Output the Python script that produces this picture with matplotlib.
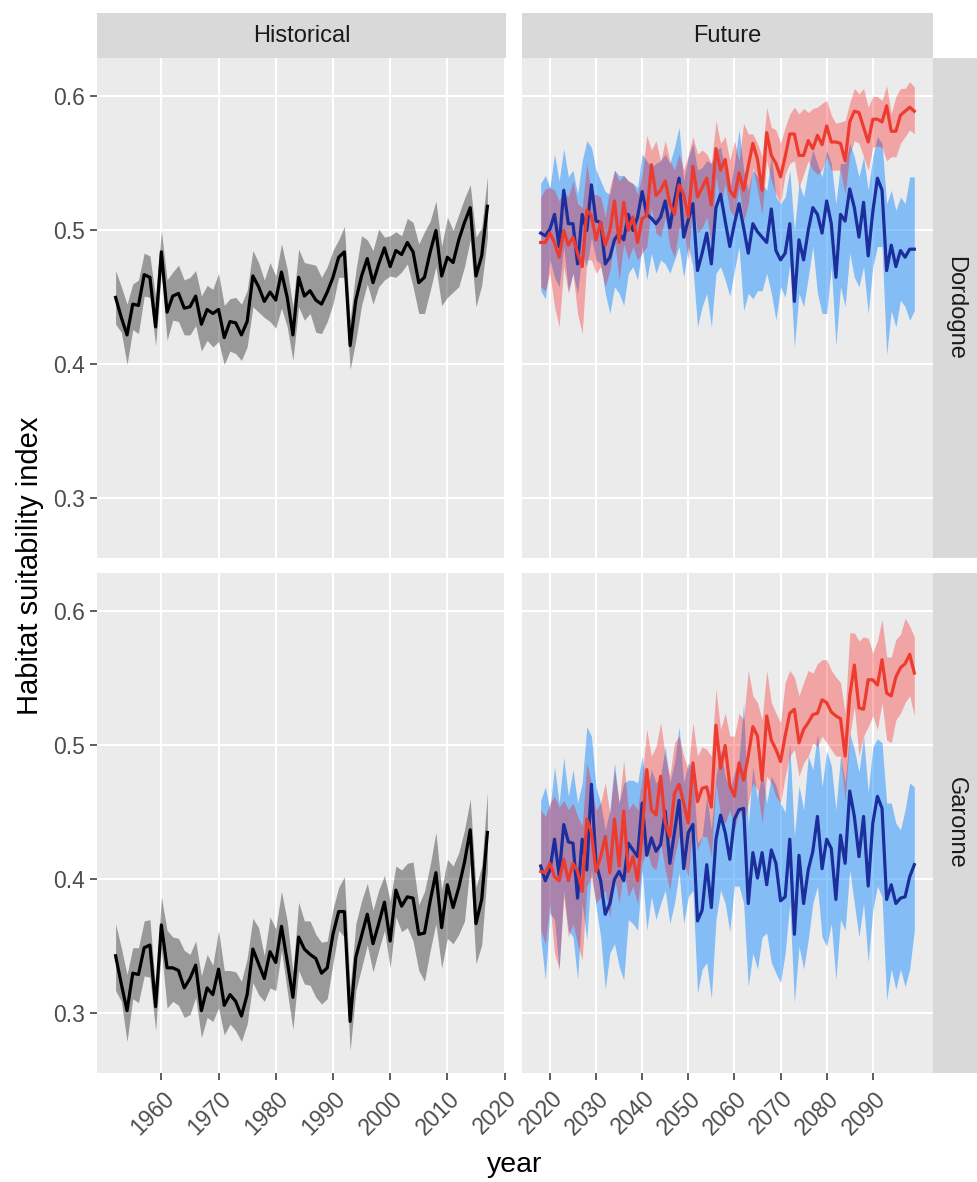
import matplotlib
matplotlib.use("Agg")
import matplotlib.pyplot as plt
from matplotlib.transforms import ScaledTranslation

plt.rcParams["font.family"] = ["Liberation Sans", "DejaVu Sans"]

#%% data
hist_years = list(range(1952, 2018))
fut_years = list(range(2018, 2100))

dord_hist_mean = [0.450, 0.435, 0.422, 0.445, 0.444, 0.467, 0.465, 0.428, 0.484, 0.439,
                  0.451, 0.453, 0.442, 0.443, 0.451, 0.430, 0.441, 0.438, 0.441, 0.420,
                  0.432, 0.431, 0.422, 0.432, 0.466, 0.458, 0.447, 0.454, 0.448, 0.469,
                  0.450, 0.422, 0.465, 0.451, 0.455, 0.448, 0.445, 0.454, 0.465, 0.480,
                  0.484, 0.414, 0.448, 0.466, 0.479, 0.461, 0.475, 0.487, 0.473, 0.485,
                  0.482, 0.491, 0.484, 0.461, 0.465, 0.484, 0.500, 0.466, 0.480, 0.476,
                  0.493, 0.506, 0.517, 0.466, 0.481, 0.518]
dord_hist_hi = [0.470, 0.458, 0.445, 0.460, 0.463, 0.483, 0.481, 0.450, 0.500, 0.463,
                0.469, 0.474, 0.463, 0.465, 0.470, 0.451, 0.459, 0.456, 0.468, 0.444,
                0.449, 0.450, 0.445, 0.455, 0.485, 0.476, 0.463, 0.476, 0.466, 0.490,
                0.471, 0.443, 0.486, 0.476, 0.475, 0.474, 0.465, 0.473, 0.485, 0.493,
                0.503, 0.433, 0.470, 0.496, 0.493, 0.485, 0.501, 0.495, 0.496, 0.499,
                0.496, 0.509, 0.506, 0.490, 0.499, 0.507, 0.522, 0.488, 0.510, 0.500,
                0.512, 0.524, 0.534, 0.495, 0.502, 0.540]
dord_hist_lo = [0.430, 0.424, 0.400, 0.426, 0.423, 0.451, 0.450, 0.414, 0.468, 0.418,
                0.433, 0.432, 0.422, 0.422, 0.429, 0.410, 0.418, 0.413, 0.417, 0.400,
                0.410, 0.408, 0.403, 0.413, 0.443, 0.439, 0.435, 0.432, 0.427, 0.442,
                0.428, 0.403, 0.443, 0.433, 0.438, 0.424, 0.423, 0.432, 0.445, 0.465,
                0.465, 0.396, 0.418, 0.444, 0.460, 0.445, 0.458, 0.463, 0.466, 0.465,
                0.469, 0.475, 0.458, 0.438, 0.438, 0.455, 0.473, 0.444, 0.450, 0.454,
                0.458, 0.473, 0.493, 0.443, 0.459, 0.495]

gar_hist_mean = [0.343, 0.322, 0.302, 0.330, 0.329, 0.349, 0.351, 0.305, 0.366, 0.334,
                 0.334, 0.332, 0.319, 0.326, 0.336, 0.302, 0.319, 0.314, 0.333, 0.306,
                 0.314, 0.309, 0.298, 0.314, 0.348, 0.337, 0.326, 0.346, 0.338, 0.365,
                 0.339, 0.312, 0.357, 0.348, 0.344, 0.341, 0.330, 0.334, 0.359, 0.376,
                 0.376, 0.294, 0.342, 0.358, 0.374, 0.352, 0.367, 0.383, 0.354, 0.392,
                 0.380, 0.387, 0.386, 0.359, 0.360, 0.384, 0.405, 0.364, 0.396, 0.379,
                 0.394, 0.413, 0.437, 0.367, 0.385, 0.435]
gar_hist_hi = [0.367, 0.349, 0.329, 0.349, 0.349, 0.369, 0.370, 0.319, 0.387, 0.362,
               0.357, 0.356, 0.347, 0.344, 0.354, 0.328, 0.344, 0.336, 0.362, 0.332,
               0.332, 0.331, 0.324, 0.341, 0.371, 0.364, 0.343, 0.372, 0.363, 0.391,
               0.369, 0.331, 0.383, 0.369, 0.369, 0.359, 0.353, 0.354, 0.378, 0.394,
               0.402, 0.319, 0.367, 0.384, 0.397, 0.377, 0.392, 0.403, 0.384, 0.410,
               0.407, 0.412, 0.413, 0.381, 0.391, 0.411, 0.435, 0.392, 0.415, 0.410,
               0.420, 0.437, 0.460, 0.394, 0.410, 0.465]
gar_hist_lo = [0.317, 0.309, 0.279, 0.311, 0.308, 0.328, 0.327, 0.287, 0.348, 0.304,
               0.309, 0.306, 0.297, 0.299, 0.312, 0.282, 0.297, 0.294, 0.304, 0.284,
               0.292, 0.287, 0.279, 0.292, 0.323, 0.314, 0.309, 0.319, 0.317, 0.347,
               0.317, 0.288, 0.332, 0.322, 0.321, 0.312, 0.307, 0.311, 0.337, 0.362,
               0.357, 0.272, 0.317, 0.334, 0.351, 0.331, 0.347, 0.362, 0.334, 0.372,
               0.361, 0.364, 0.354, 0.332, 0.324, 0.347, 0.367, 0.334, 0.356, 0.352,
               0.359, 0.369, 0.412, 0.337, 0.351, 0.407]

dord_blue_mean = [0.498, 0.496, 0.501, 0.512, 0.488, 0.530, 0.505, 0.505, 0.475, 0.512,
                  0.500, 0.534, 0.507, 0.506, 0.475, 0.480, 0.493, 0.498, 0.493, 0.512,
                  0.500, 0.510, 0.529, 0.512, 0.509, 0.505, 0.510, 0.522, 0.502, 0.522,
                  0.539, 0.495, 0.508, 0.520, 0.470, 0.483, 0.498, 0.475, 0.517, 0.527,
                  0.507, 0.488, 0.505, 0.520, 0.502, 0.483, 0.505, 0.499, 0.495, 0.491,
                  0.516, 0.485, 0.478, 0.483, 0.505, 0.447, 0.493, 0.478, 0.500, 0.517,
                  0.512, 0.498, 0.522, 0.505, 0.465, 0.512, 0.507, 0.531, 0.517, 0.495,
                  0.521, 0.481, 0.514, 0.539, 0.530, 0.470, 0.489, 0.473, 0.485, 0.480,
                  0.486, 0.486]
dord_blue_hi = [0.535, 0.541, 0.532, 0.557, 0.537, 0.561, 0.540, 0.545, 0.527, 0.552,
                0.567, 0.562, 0.545, 0.537, 0.529, 0.527, 0.545, 0.541, 0.541, 0.537,
                0.535, 0.532, 0.557, 0.552, 0.547, 0.550, 0.552, 0.557, 0.550, 0.562,
                0.577, 0.537, 0.555, 0.565, 0.545, 0.547, 0.552, 0.550, 0.560, 0.562,
                0.545, 0.530, 0.550, 0.575, 0.545, 0.530, 0.545, 0.540, 0.535, 0.530,
                0.555, 0.525, 0.520, 0.525, 0.545, 0.500, 0.535, 0.525, 0.545, 0.560,
                0.550, 0.540, 0.560, 0.550, 0.520, 0.550, 0.550, 0.565, 0.555, 0.540,
                0.555, 0.530, 0.555, 0.570, 0.565, 0.520, 0.530, 0.515, 0.525, 0.520,
                0.540, 0.540]
dord_blue_lo = [0.455, 0.449, 0.478, 0.465, 0.458, 0.488, 0.455, 0.468, 0.453, 0.483,
                0.473, 0.495, 0.478, 0.475, 0.453, 0.438, 0.458, 0.453, 0.444, 0.468,
                0.473, 0.463, 0.488, 0.463, 0.483, 0.468, 0.478, 0.475, 0.468, 0.478,
                0.488, 0.465, 0.488, 0.473, 0.428, 0.443, 0.453, 0.428, 0.468, 0.473,
                0.463, 0.451, 0.470, 0.488, 0.440, 0.453, 0.449, 0.455, 0.455, 0.468,
                0.453, 0.433, 0.458, 0.450, 0.475, 0.413, 0.453, 0.443, 0.465, 0.488,
                0.453, 0.438, 0.438, 0.473, 0.414, 0.458, 0.443, 0.483, 0.465, 0.458,
                0.473, 0.438, 0.473, 0.488, 0.488, 0.407, 0.440, 0.428, 0.448, 0.443,
                0.433, 0.440]

dord_red_mean = [0.491, 0.491, 0.498, 0.491, 0.480, 0.500, 0.489, 0.495, 0.483, 0.473,
                 0.515, 0.511, 0.493, 0.506, 0.489, 0.500, 0.522, 0.491, 0.521, 0.500,
                 0.510, 0.491, 0.509, 0.511, 0.549, 0.526, 0.530, 0.537, 0.520, 0.512,
                 0.534, 0.527, 0.510, 0.548, 0.525, 0.532, 0.539, 0.519, 0.561, 0.545,
                 0.553, 0.530, 0.525, 0.543, 0.530, 0.548, 0.565, 0.553, 0.530, 0.573,
                 0.556, 0.550, 0.540, 0.555, 0.572, 0.572, 0.556, 0.556, 0.567, 0.561,
                 0.571, 0.564, 0.578, 0.566, 0.566, 0.565, 0.552, 0.581, 0.589, 0.588,
                 0.577, 0.566, 0.583, 0.583, 0.581, 0.593, 0.574, 0.574, 0.586, 0.589,
                 0.592, 0.589]
dord_red_hi = [0.525, 0.531, 0.532, 0.530, 0.522, 0.529, 0.525, 0.537, 0.520, 0.517,
               0.550, 0.527, 0.527, 0.525, 0.510, 0.532, 0.545, 0.537, 0.541, 0.537,
               0.535, 0.527, 0.542, 0.571, 0.560, 0.567, 0.552, 0.567, 0.552, 0.545,
               0.557, 0.545, 0.556, 0.570, 0.557, 0.560, 0.557, 0.550, 0.582, 0.565,
               0.570, 0.552, 0.567, 0.552, 0.580, 0.572, 0.572, 0.565, 0.555, 0.592,
               0.577, 0.575, 0.565, 0.577, 0.587, 0.592, 0.587, 0.591, 0.588, 0.591,
               0.592, 0.595, 0.597, 0.586, 0.580, 0.581, 0.582, 0.595, 0.606, 0.602,
               0.606, 0.592, 0.600, 0.600, 0.597, 0.608, 0.587, 0.600, 0.606, 0.606,
               0.611, 0.607]
dord_red_lo = [0.458, 0.455, 0.468, 0.443, 0.428, 0.473, 0.453, 0.468, 0.438, 0.423,
               0.478, 0.478, 0.468, 0.473, 0.458, 0.470, 0.493, 0.463, 0.490, 0.478,
               0.488, 0.478, 0.483, 0.488, 0.517, 0.498, 0.495, 0.510, 0.488, 0.480,
               0.502, 0.502, 0.478, 0.522, 0.498, 0.502, 0.510, 0.490, 0.540, 0.520,
               0.535, 0.515, 0.510, 0.532, 0.507, 0.520, 0.547, 0.530, 0.512, 0.552,
               0.537, 0.527, 0.520, 0.542, 0.550, 0.552, 0.532, 0.542, 0.552, 0.545,
               0.542, 0.545, 0.555, 0.545, 0.545, 0.545, 0.527, 0.557, 0.567, 0.565,
               0.555, 0.545, 0.562, 0.563, 0.562, 0.552, 0.555, 0.555, 0.565, 0.570,
               0.575, 0.572]

gar_blue_mean = [0.410, 0.399, 0.407, 0.430, 0.403, 0.441, 0.428, 0.427, 0.386, 0.430,
                 0.407, 0.471, 0.412, 0.399, 0.374, 0.382, 0.400, 0.406, 0.399, 0.427,
                 0.422, 0.417, 0.457, 0.418, 0.431, 0.421, 0.426, 0.451, 0.412, 0.435,
                 0.459, 0.408, 0.435, 0.441, 0.369, 0.377, 0.411, 0.379, 0.430, 0.448,
                 0.435, 0.415, 0.445, 0.452, 0.453, 0.382, 0.420, 0.401, 0.420, 0.396,
                 0.422, 0.412, 0.384, 0.387, 0.430, 0.359, 0.418, 0.382, 0.407, 0.421,
                 0.447, 0.408, 0.430, 0.423, 0.385, 0.433, 0.412, 0.466, 0.447, 0.417,
                 0.447, 0.395, 0.442, 0.462, 0.453, 0.385, 0.396, 0.382, 0.386, 0.387,
                 0.402, 0.411]
gar_blue_hi = [0.459, 0.469, 0.452, 0.484, 0.457, 0.491, 0.462, 0.482, 0.457, 0.472,
               0.514, 0.507, 0.469, 0.457, 0.437, 0.452, 0.487, 0.457, 0.472, 0.474,
               0.474, 0.472, 0.492, 0.464, 0.482, 0.472, 0.477, 0.499, 0.472, 0.487,
               0.514, 0.472, 0.487, 0.482, 0.427, 0.432, 0.462, 0.437, 0.477, 0.497,
               0.477, 0.467, 0.480, 0.490, 0.532, 0.440, 0.484, 0.460, 0.482, 0.457,
               0.477, 0.470, 0.457, 0.450, 0.502, 0.432, 0.470, 0.452, 0.492, 0.482,
               0.509, 0.469, 0.496, 0.485, 0.452, 0.492, 0.472, 0.509, 0.497, 0.480,
               0.507, 0.465, 0.499, 0.505, 0.502, 0.457, 0.457, 0.442, 0.437, 0.452,
               0.472, 0.469]
gar_blue_lo = [0.357, 0.325, 0.375, 0.370, 0.333, 0.392, 0.362, 0.357, 0.325, 0.382,
               0.355, 0.407, 0.380, 0.357, 0.318, 0.345, 0.352, 0.335, 0.325, 0.370,
               0.367, 0.362, 0.407, 0.362, 0.387, 0.370, 0.382, 0.392, 0.367, 0.382,
               0.405, 0.367, 0.387, 0.392, 0.315, 0.333, 0.338, 0.311, 0.370, 0.392,
               0.382, 0.361, 0.395, 0.395, 0.382, 0.320, 0.345, 0.333, 0.357, 0.360,
               0.338, 0.330, 0.323, 0.345, 0.382, 0.308, 0.350, 0.333, 0.355, 0.382,
               0.395, 0.357, 0.350, 0.367, 0.325, 0.370, 0.362, 0.407, 0.382, 0.357,
               0.382, 0.338, 0.377, 0.395, 0.387, 0.310, 0.333, 0.318, 0.333, 0.320,
               0.333, 0.362]

gar_red_mean = [0.406, 0.405, 0.412, 0.402, 0.399, 0.415, 0.399, 0.412, 0.406, 0.391,
                0.445, 0.435, 0.406, 0.417, 0.432, 0.405, 0.445, 0.410, 0.451, 0.406,
                0.417, 0.399, 0.435, 0.482, 0.452, 0.448, 0.477, 0.442, 0.432, 0.464,
                0.471, 0.457, 0.442, 0.487, 0.458, 0.468, 0.469, 0.454, 0.515, 0.483,
                0.500, 0.470, 0.462, 0.487, 0.474, 0.492, 0.514, 0.507, 0.474, 0.522,
                0.504, 0.497, 0.488, 0.507, 0.524, 0.527, 0.502, 0.512, 0.517, 0.523,
                0.524, 0.534, 0.532, 0.525, 0.522, 0.520, 0.492, 0.537, 0.560, 0.528,
                0.527, 0.549, 0.549, 0.545, 0.564, 0.539, 0.537, 0.551, 0.558, 0.561,
                0.568, 0.554]
gar_red_hi = [0.452, 0.447, 0.457, 0.462, 0.454, 0.459, 0.452, 0.457, 0.447, 0.440,
              0.487, 0.472, 0.452, 0.457, 0.472, 0.449, 0.482, 0.457, 0.489, 0.452,
              0.457, 0.452, 0.477, 0.512, 0.492, 0.499, 0.517, 0.492, 0.477, 0.502,
              0.507, 0.492, 0.482, 0.517, 0.492, 0.499, 0.497, 0.492, 0.542, 0.512,
              0.524, 0.507, 0.507, 0.524, 0.519, 0.556, 0.537, 0.532, 0.519, 0.556,
              0.532, 0.524, 0.517, 0.547, 0.556, 0.551, 0.537, 0.547, 0.556, 0.554,
              0.561, 0.564, 0.564, 0.556, 0.551, 0.547, 0.524, 0.584, 0.584, 0.578,
              0.581, 0.580, 0.569, 0.578, 0.594, 0.566, 0.566, 0.579, 0.583, 0.595,
              0.589, 0.581]
gar_red_lo = [0.362, 0.352, 0.382, 0.345, 0.333, 0.387, 0.357, 0.367, 0.352, 0.340,
              0.395, 0.402, 0.382, 0.387, 0.392, 0.372, 0.402, 0.382, 0.407, 0.387,
              0.395, 0.382, 0.412, 0.422, 0.410, 0.407, 0.427, 0.407, 0.392, 0.417,
              0.432, 0.412, 0.402, 0.442, 0.422, 0.432, 0.432, 0.417, 0.472, 0.447,
              0.442, 0.452, 0.437, 0.452, 0.442, 0.457, 0.472, 0.467, 0.442, 0.477,
              0.472, 0.462, 0.457, 0.477, 0.492, 0.497, 0.477, 0.487, 0.492, 0.502,
              0.499, 0.507, 0.502, 0.497, 0.492, 0.492, 0.459, 0.507, 0.529, 0.492,
              0.507, 0.514, 0.522, 0.512, 0.532, 0.504, 0.502, 0.519, 0.524, 0.532,
              0.537, 0.522]

rivers = ["Dordogne", "Garonne"]
periods = ["Historical", "Future"]
hist_ticks = [1960, 1970, 1980, 1990, 2000, 2010, 2020]
fut_ticks = [2020, 2030, 2040, 2050, 2060, 2070, 2080, 2090]
y_ticks = [0.3, 0.4, 0.5, 0.6]

#%% layout in pixels (top-left origin)
W, H = 978, 1182
fig = plt.figure(figsize=(W / 100, H / 100), dpi=100)

def box(x0, y0, x1, y1):
    return [x0 / W, 1 - y1 / H, (x1 - x0) / W, (y1 - y0) / H]

cols = [(97, 506), (522, 933)]
rows = [(58, 558), (573, 1073)]
xlims = [(1948.75, 2020.25), (2013.95, 2103.05)]
xticks = [hist_ticks, fut_ticks]

hist_data = [(dord_hist_mean, dord_hist_lo, dord_hist_hi),
             (gar_hist_mean, gar_hist_lo, gar_hist_hi)]
fut_data = [((dord_blue_mean, dord_blue_lo, dord_blue_hi), (dord_red_mean, dord_red_lo, dord_red_hi)),
            ((gar_blue_mean, gar_blue_lo, gar_blue_hi), (gar_red_mean, gar_red_lo, gar_red_hi))]

blue_fill, red_fill = "#1E90FF", "#FF0000"
blue_line, red_line = "#1B2E9C", "#EE3B2F"

for r, (y0, y1) in enumerate(rows):
    for c, (x0, x1) in enumerate(cols):
        ax = fig.add_axes(box(x0, y0, x1, y1))
        ax.set_facecolor("#EBEBEB")
        for s in ax.spines.values():
            s.set_visible(False)
        ax.set_xlim(xlims[c])
        ax.set_ylim(0.2555, 0.6287)
        ax.set_xticks(xticks[c])
        ax.set_yticks(y_ticks)
        ax.grid(color="white", linewidth=1.5)
        ax.set_axisbelow(True)
        ax.tick_params(length=4.8, width=1.1, color="#333333",
                       labelsize=16.5, labelcolor="#4D4D4D")
        ax.tick_params(axis="y", pad=4.0)
        ax.tick_params(axis="x", pad=11)

        if c == 0:
            m, lo, hi = hist_data[r]
            ax.fill_between(hist_years, lo, hi, color="black", alpha=0.35, linewidth=0)
            ax.plot(hist_years, m, color="black", linewidth=2.3)
        else:
            (bm, blo, bhi), (rm, rlo, rhi) = fut_data[r]
            ax.fill_between(fut_years, blo, bhi, color=blue_fill, alpha=0.5, linewidth=0)
            ax.fill_between(fut_years, rlo, rhi, color=red_fill, alpha=0.3, linewidth=0)
            ax.plot(fut_years, bm, color=blue_line, linewidth=2.3)
            ax.plot(fut_years, rm, color=red_line, linewidth=2.3)

        if c == 0:
            ax.set_yticklabels([f"{v:.1f}" for v in y_ticks])
        else:
            ax.tick_params(axis="y", left=False, labelleft=False)

        if r == 1:
            ax.set_xticklabels([str(t) for t in xticks[c]], rotation=45,
                               ha="right", va="center", rotation_mode="anchor")
            for lab in ax.get_xticklabels():
                lab.set_transform(lab.get_transform() +
                                  ScaledTranslation(9 / 100, 0, fig.dpi_scale_trans))
        else:
            ax.tick_params(axis="x", bottom=False, labelbottom=False)

# strips on top
for c, (x0, x1) in enumerate(cols):
    sx = fig.add_axes(box(x0, 13, x1, 58))
    sx.set_facecolor("#D9D9D9")
    sx.set_xticks([]); sx.set_yticks([])
    for s in sx.spines.values():
        s.set_visible(False)
    sx.text(0.5, 0.5, periods[c], ha="center", va="center", fontsize=17,
            color="#1A1A1A", transform=sx.transAxes)

# strips on the right
for r, (y0, y1) in enumerate(rows):
    sy = fig.add_axes(box(933, y0, 978, y1))
    sy.set_facecolor("#D9D9D9")
    sy.set_xticks([]); sy.set_yticks([])
    for s in sy.spines.values():
        s.set_visible(False)
    sy.text(0.5, 0.5, rivers[r], ha="center", va="center", rotation=-90,
            fontsize=17, color="#1A1A1A", transform=sy.transAxes)

fig.text(38 / W, 1 - 565.5 / H, "Habitat suitability index", rotation=90,
         ha="center", va="baseline", rotation_mode="anchor", fontsize=21)
fig.text(515 / W, 1 - 1172 / H, "year", ha="center", va="baseline", fontsize=20.5)

fig.savefig("out.png", dpi=100)
